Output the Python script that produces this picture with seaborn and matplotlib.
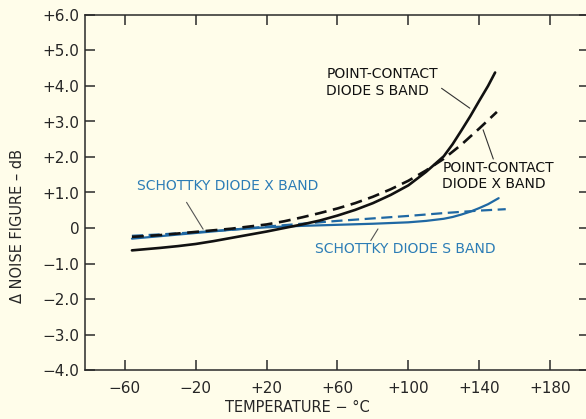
import matplotlib
matplotlib.use("Agg")
import matplotlib.pyplot as plt
import seaborn as sns
import pandas as pd

# ---- data ----
pc_s_temp = [-56, -40, -30, -20, -10, 0, 10, 20, 30, 40, 50, 60, 70, 80, 90,
             100, 110, 120, 125, 130, 135, 140, 145, 149]
pc_s_val = [-0.63, -0.56, -0.51, -0.45, -0.37, -0.28, -0.19, -0.10, 0.00, 0.10,
            0.21, 0.35, 0.51, 0.70, 0.93, 1.20, 1.58, 2.02, 2.36, 2.75, 3.15,
            3.58, 4.00, 4.38]

pc_x_temp = [-56, -40, -20, 0, 10, 20, 30, 40, 50, 60, 70, 80, 90, 100, 110,
             120, 130, 140, 150]
pc_x_val = [-0.25, -0.20, -0.11, -0.02, 0.04, 0.10, 0.19, 0.30, 0.42, 0.55,
            0.70, 0.88, 1.09, 1.33, 1.62, 1.95, 2.35, 2.80, 3.27]

sch_x_temp = [-56, -40, -20, 0, 20, 40, 60, 80, 100, 120, 140, 155]
sch_x_val = [-0.22, -0.18, -0.12, -0.05, 0.04, 0.12, 0.20, 0.27, 0.34, 0.42,
             0.49, 0.53]

sch_s_temp = [-56, -40, -20, 0, 20, 40, 60, 80, 100, 110, 120, 125, 130, 135,
              140, 145, 151]
sch_s_val = [-0.30, -0.23, -0.14, -0.05, 0.02, 0.06, 0.09, 0.12, 0.16, 0.20,
             0.26, 0.31, 0.38, 0.46, 0.56, 0.67, 0.84]

x_ticks = [-60, -20, 20, 60, 100, 140, 180]
x_tick_labels = ["\u221260", "\u221220", "+20", "+60", "+100", "+140", "+180"]
y_ticks = [6, 5, 4, 3, 2, 1, 0, -1, -2, -3, -4]
y_tick_labels = ["+6.0", "+5.0", "+4.0", "+3.0", "+2.0", "+1.0", "0",
                 "\u22121.0", "\u22122.0", "\u22123.0", "\u22124.0"]

BG = "#fffdea"
BLACK = "#111111"
BLUE_LINE = "#1f68a3"
BLUE_TEXT = "#2c7db6"

sns.set_style("ticks")
plt.rcParams["font.family"] = ["DejaVu Sans"]

fig = plt.figure(figsize=(5.86, 4.19), dpi=100, facecolor=BG)
ax = fig.add_axes([85 / 586, 1 - 370 / 419, (589 - 85) / 586, (370 - 15) / 419])
ax.set_facecolor(BG)

df_pcs = pd.DataFrame({"T": pc_s_temp, "V": pc_s_val})
df_pcx = pd.DataFrame({"T": pc_x_temp, "V": pc_x_val})
df_sx = pd.DataFrame({"T": sch_x_temp, "V": sch_x_val})
df_ss = pd.DataFrame({"T": sch_s_temp, "V": sch_s_val})

sns.lineplot(data=df_ss, x="T", y="V", ax=ax, color=BLUE_LINE, lw=1.6, legend=False)
sns.lineplot(data=df_sx, x="T", y="V", ax=ax, color=BLUE_LINE, lw=1.6, legend=False,
             linestyle=(0, (5, 2.5)))
sns.lineplot(data=df_pcs, x="T", y="V", ax=ax, color=BLACK, lw=1.9, legend=False)
sns.lineplot(data=df_pcx, x="T", y="V", ax=ax, color=BLACK, lw=1.9, legend=False,
             linestyle=(0, (4.5, 2.5)))

ax.set_xlim(-82.5, 202)
ax.set_ylim(-4, 6)
ax.set_xticks(x_ticks)
ax.set_xticklabels(x_tick_labels)
ax.set_yticks(y_ticks)
ax.set_yticklabels(y_tick_labels)

for s in ax.spines.values():
    s.set_visible(True)
    s.set_linewidth(1.1)
    s.set_color("#2a2a2a")

ax.tick_params(axis="both", direction="in", length=7, width=1.1, color="#2a2a2a",
               labelsize=11, top=True, right=True)
ax.tick_params(axis="x", pad=8)
ax.tick_params(axis="y", pad=4)

ax.set_xlabel("TEMPERATURE \u2212 \u00b0C", fontsize=10.5)
ax.xaxis.set_label_coords(0.422, -0.085)
ax.set_ylabel("\u0394 NOISE FIGURE \u2013 dB", fontsize=10.5)
ax.yaxis.set_label_coords(-0.12, 0.405)

# annotations
ax.text(53.8, 4.1, "POINT-CONTACT\nDIODE S BAND", fontsize=10, color=BLACK,
        ha="left", va="center", linespacing=1.2)
ax.annotate("", xy=(136, 3.33), xytext=(117.5, 3.98),
            arrowprops=dict(arrowstyle="-", lw=0.8, color="#333333"))

ax.text(119.2, 1.46, "POINT-CONTACT\nDIODE X BAND", fontsize=10, color=BLACK,
        ha="left", va="center", linespacing=1.2)
ax.annotate("", xy=(141.7, 2.84), xytext=(148.5, 1.87),
            arrowprops=dict(arrowstyle="-", lw=0.8, color="#333333"))

ax.text(-53.2, 1.18, "SCHOTTKY DIODE X BAND", fontsize=10, color=BLUE_TEXT,
        ha="left", va="center")
ax.annotate("", xy=(-15, -0.1), xytext=(-26, 0.79),
            arrowprops=dict(arrowstyle="-", lw=0.8, color="#555555"))

ax.text(47.6, -0.59, "SCHOTTKY DIODE S BAND", fontsize=10, color=BLUE_TEXT,
        ha="left", va="center")
ax.annotate("", xy=(83.7, 0.04), xytext=(78, -0.42),
            arrowprops=dict(arrowstyle="-", lw=0.8, color="#555555"))

fig.savefig("out.png", dpi=100, facecolor=BG)
